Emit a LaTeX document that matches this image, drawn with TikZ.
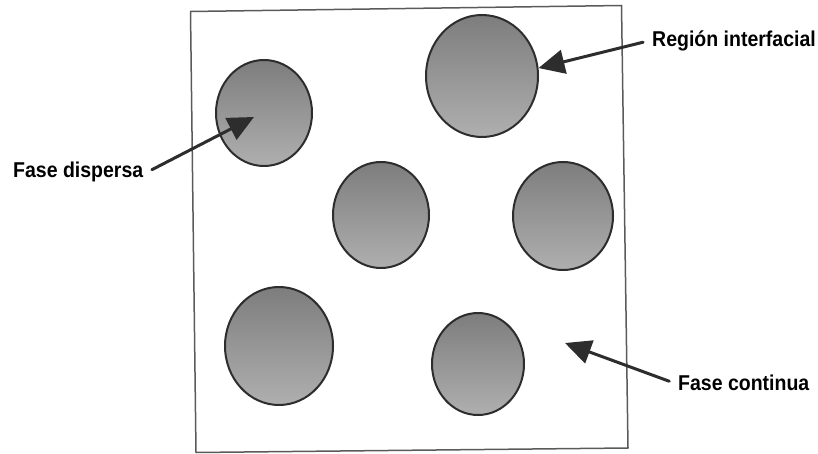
\documentclass[tikz,border=0pt]{standalone}
\usepackage{fontspec}
\setmainfont{Liberation Sans}
\usetikzlibrary{arrows.meta,shapes.geometric}
\definecolor{rim}{RGB}{45,45,45}
\definecolor{shadetop}{RGB}{125,125,125}
\definecolor{shadebot}{RGB}{175,175,175}
\definecolor{frame}{RGB}{90,90,90}
\tikzset{
  every picture/.style={line join=round, line cap=round},
  blob/.style={ellipse, draw=rim, line width=2pt, inner sep=0pt,
    top color=shadetop, bottom color=shadebot},
  lbl/.style={font=\fontsize{19.5}{22}\selectfont\bfseries, inner sep=4pt},
  pointer/.style={draw=rim, line width=3pt, shorten <=5pt, -{Triangle[length=26pt,width=24pt]}},
}

\begin{document}
\begin{tikzpicture}[x=1pt,y=-1pt]
\useasboundingbox (0,0) rectangle (818,454);
\draw[frame, line width=1.5pt] (190.5,11.5) -- (621.5,5.5) -- (628,448) -- (196,452.5) -- cycle;
\foreach \n/\x/\y/\rx/\ry in {1/264/113/48/53,2/482/76/56/61,3/381/215/48/53,4/563/216/50/54,5/279/346/54/59,6/478/364/46/51}{
  \node[blob, minimum width=\rx*2pt, minimum height=\ry*2pt] (c\n) at (\x,\y) {};
}
\node[lbl, anchor=west] (interfase) at (648,41) {\scalebox{1}[1.1]{Región interfacial}};
\node[lbl, anchor=west] (dispersa) at (9,172) {\scalebox{1}[1.1]{Fase dispersa}};
\node[lbl, anchor=west] (continua) at (674,383) {\scalebox{1}[1.1]{Fase continua}};
\coordinate (tipdisp) at (254,117);
\coordinate (tipcont) at (565,343);
\draw[pointer] (interfase.west) -- (c2.8);
\draw[pointer] (dispersa.east) -- (tipdisp);
\draw[pointer] (continua.west) -- (tipcont);
\end{tikzpicture}
\end{document}
